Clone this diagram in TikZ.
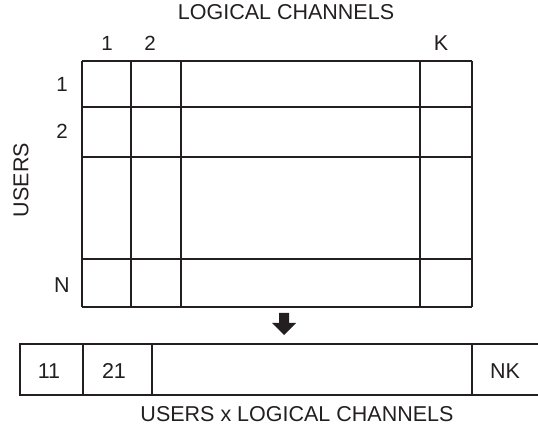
\documentclass[tikz,border=0pt]{standalone}
\usepackage{fontspec}
\setmainfont{Liberation Sans}
\definecolor{ink}{HTML}{231F20}
\begin{document}
\begin{tikzpicture}[x=1pt,y=-1pt,
  lbl/.style={inner sep=0pt,text=ink,font=\fontsize{21.5}{24}\selectfont},
  num/.style={inner sep=0pt,text=ink,font=\fontsize{20.5}{23}\selectfont},
  gridline/.style={draw=ink,line width=1.7pt}]
\useasboundingbox (0,0) rectangle (538,435);
% grid
\foreach \x in {82,131,181,420,472} \draw[gridline] (\x,61) -- (\x,307);
\foreach \y in {61,107,157,259,307} \draw[gridline] (82,\y) -- (472,\y);
% labels
\node[lbl] (title) at (286,12) {LOGICAL CHANNELS};
\node[num] (c1) at (107,43) {1};
\node[num] (c2) at (150,43) {2};
\node[lbl] (cK) at (441,43) {K};
\node[num] (r1) at (62,84) {1};
\node[num] (r2) at (62,131) {2};
\node[lbl] (rN) at (62,285) {N};
\node[lbl,rotate=90] (users) at (21,180) {USERS};
% arrow
\fill[ink] (279,313) -- (289,313) -- (289,323) -- (296,323) -- (284,335) -- (272,323) -- (279,323) -- cycle;
% bottom bar
\draw[gridline] (538,344) -- (20,344) -- (20,395) -- (538,395);
\foreach \x in {83,152,472} \draw[gridline] (\x,344) -- (\x,395);
\node[lbl] (b11) at (49,371) {11};
\node[lbl] (b21) at (114,371) {21};
\node[lbl] (bNK) at (505,371) {NK};
\node[lbl] (foot) at (297,414) {USERS x LOGICAL CHANNELS};
\end{tikzpicture}
\end{document}
